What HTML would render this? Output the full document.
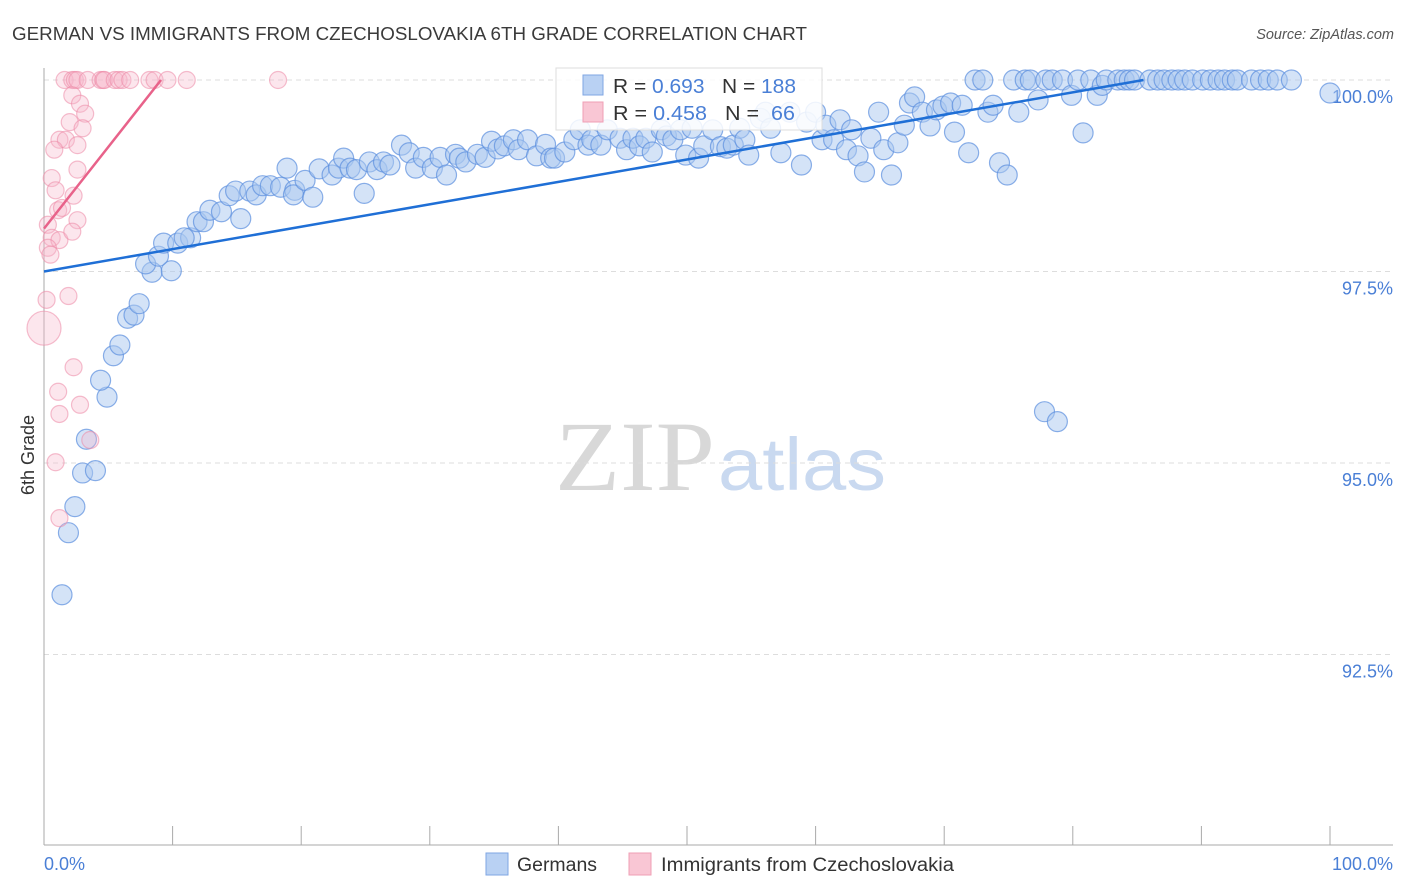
<!DOCTYPE html>
<html><head><meta charset="utf-8">
<style>
body{margin:0;background:#fff;font-family:"Liberation Sans",sans-serif;}
#wrap{position:relative;width:1406px;height:892px;overflow:hidden;}
svg text{font-family:"Liberation Sans",sans-serif;}
</style></head>
<body>
<div id="wrap">
<svg id="chart" width="1406" height="892">
  <text x="12" y="40" font-size="18" fill="#3a3a3a" textLength="795" lengthAdjust="spacingAndGlyphs">GERMAN VS IMMIGRANTS FROM CZECHOSLOVAKIA 6TH GRADE CORRELATION CHART</text>
  <text x="1394" y="39" font-size="14.5" fill="#555" text-anchor="end" font-style="italic">Source: ZipAtlas.com</text>
  <text x="555" y="490" font-size="100" fill="#d8d8d8" textLength="160" lengthAdjust="spacingAndGlyphs" style="font-family:'Liberation Serif',serif">ZIP</text>
  <text x="718" y="490" font-size="74" fill="#c9d9f0" textLength="168" lengthAdjust="spacingAndGlyphs">atlas</text>
  <g id="grid"></g>
  <g id="axes"></g>
  <g id="pts"></g>
  <g id="lines"></g>
  <text transform="translate(34,455) rotate(-90)" font-size="18" fill="#333" text-anchor="middle">6th Grade</text>
  <text x="44" y="870" font-size="18" fill="#4a7fd6">0.0%</text>
  <text x="1393" y="870" font-size="18" fill="#4a7fd6" text-anchor="end">100.0%</text>
  <g>
    <rect x="556" y="68" width="266" height="62" fill="#fff" fill-opacity="0.85" stroke="#ddd"/>
    <rect x="583" y="75" width="20" height="20" fill="#b9d1f3" stroke="#7fa6e3"/>
    <text x="613" y="93" font-size="20" fill="#333" textLength="183" lengthAdjust="spacingAndGlyphs">R = <tspan fill="#4a7fd6">0.693</tspan>&#160;&#160;&#160;N = <tspan fill="#4a7fd6">188</tspan></text>
    <rect x="583" y="102" width="20" height="20" fill="#f9c6d4" stroke="#ef9fb5"/>
    <text x="613" y="120" font-size="20" fill="#333" textLength="182" lengthAdjust="spacingAndGlyphs">R = <tspan fill="#4a7fd6">0.458</tspan>&#160;&#160;&#160;N = <tspan fill="#4a7fd6">&#160;66</tspan></text>
  </g>
  <g>
    <rect x="486" y="853" width="22" height="22" fill="#b9d1f3" stroke="#7fa6e3"/>
    <text x="517" y="871" font-size="19" fill="#333" textLength="80" lengthAdjust="spacingAndGlyphs">Germans</text>
    <rect x="629" y="853" width="22" height="22" fill="#f9c6d4" stroke="#ef9fb5"/>
    <text x="661" y="871" font-size="19" fill="#333" textLength="293" lengthAdjust="spacingAndGlyphs">Immigrants from Czechoslovakia</text>
  </g>
</svg>
</div>
<script>
const yTicks=[100,97.5,95,92.5];
const yTickLabels=["100.0%","97.5%","95.0%","92.5%"];
const xTicks=[0,10,20,30,40,50,60,70,80,90,100];
const blueX=[1.4,1.9,2.4,3.0,4.0,3.3,4.9,4.4,5.4,5.9,6.5,7.0,7.4,8.4,9.9,7.9,8.9,9.3,10.4,11.4,10.9,11.9,12.4,12.9,13.8,15.3,14.4,14.9,16.0,16.5,17.0,17.6,18.4,18.9,19.5,19.4,20.3,20.9,21.4,22.4,22.9,23.3,23.8,24.3,24.9,25.3,25.9,26.4,26.9,27.8,28.4,28.9,29.5,30.2,30.8,31.3,32.0,32.3,32.8,33.7,34.3,34.8,35.3,35.8,36.5,36.9,37.6,38.3,39.0,39.4,39.7,40.5,41.2,41.7,42.3,42.6,43.3,43.8,44.8,45.3,45.8,46.3,46.8,47.3,48.0,48.4,48.9,49.5,49.9,50.4,50.9,51.3,52.0,52.6,53.1,53.6,54.1,54.5,54.8,55.7,56.1,56.5,57.3,58.0,58.9,59.3,60.0,60.5,60.8,61.4,61.9,62.4,62.8,63.3,63.8,64.3,64.9,65.3,65.9,66.4,66.9,67.3,67.7,68.3,68.9,69.4,69.9,70.5,70.8,71.4,71.9,72.4,73.0,73.4,73.8,74.3,74.9,75.4,75.8,76.3,76.7,77.3,77.9,78.4,79.2,79.9,80.4,80.8,81.4,81.9,82.3,82.6,83.5,84.0,84.4,84.8,86.0,86.6,87.1,87.7,88.2,88.7,89.3,90.1,90.7,91.3,91.8,92.4,92.8,93.9,94.6,95.2,95.9,97.0,100.0,77.8,78.8];
const blueY=[93.28,94.09,94.43,94.87,94.90,95.31,95.86,96.08,96.40,96.54,96.89,96.93,97.08,97.49,97.51,97.60,97.70,97.87,97.87,97.94,97.94,98.15,98.15,98.30,98.28,98.19,98.49,98.55,98.55,98.50,98.62,98.62,98.60,98.85,98.56,98.50,98.69,98.47,98.84,98.76,98.85,98.98,98.85,98.83,98.52,98.93,98.83,98.93,98.89,99.15,99.05,98.85,98.99,98.85,98.99,98.76,99.03,98.98,98.93,99.03,98.99,99.20,99.10,99.14,99.22,99.09,99.22,99.01,99.16,98.98,98.98,99.06,99.22,99.35,99.15,99.22,99.15,99.35,99.24,99.09,99.24,99.14,99.24,99.06,99.35,99.27,99.22,99.35,99.02,99.37,98.98,99.14,99.35,99.13,99.11,99.15,99.37,99.22,99.02,99.50,99.58,99.37,99.05,99.58,98.89,99.45,99.58,99.22,99.41,99.22,99.48,99.09,99.35,99.01,98.80,99.24,99.58,99.09,98.76,99.18,99.41,99.70,99.78,99.58,99.40,99.61,99.66,99.70,99.32,99.67,99.05,100,100,99.58,99.67,98.92,98.76,100,99.58,100,100,99.74,100,100,100,99.80,100,99.31,100,99.80,99.93,100,100,100,100,100,100,100,100,100,100,100,100,100,100,100,100,100,100,100,100,100,100,100,99.83,95.67,95.54];
const pinkX=[1.6,2.2,2.4,2.6,3.4,4.4,4.6,4.7,5.5,5.8,6.1,6.7,8.2,8.6,9.6,11.1,18.2,2.2,2.8,3.2,2.0,3.0,1.2,1.7,2.6,0.8,2.6,0.6,0.9,2.3,1.1,1.4,2.6,0.3,0.6,1.2,2.2,0.3,0.5,0.2,1.9,0,2.3,1.1,2.8,1.2,3.6,0.9,1.2];
const pinkY=[100,100,100,100,100,100,100,100,100,100,100,100,100,100,100,100,100,99.80,99.69,99.56,99.45,99.37,99.22,99.22,99.15,99.09,98.83,98.72,98.56,98.49,98.30,98.33,98.17,98.11,97.94,97.91,98.02,97.81,97.72,97.13,97.18,96.76,96.25,95.93,95.76,95.64,95.30,95.01,94.28];
const pinkSize=[1,1,1,1,1,1,1,1,1,1,1,1,1,1,1,1,1,1,1,1,1,1,1,1,1,1,1,1,1,1,1,1,1,1,1,1,1,1,1,1,1,2,1,1,1,1,1,1,1];
const blueTrend=[[0,97.5],[85.5,100.0]];
const pinkTrend=[[0,98.06],[9.1,100.0]];
const X0=44,X1=1330,Y100=80,PXPER=76.6;
function sx(v){return X0+(X1-X0)*v/100;}
function sy(v){return Y100+(100-v)*PXPER;}
const NS="http://www.w3.org/2000/svg";
function mk(tag,attrs,parent){const e=document.createElementNS(NS,tag);for(const k in attrs)e.setAttribute(k,attrs[k]);parent.appendChild(e);return e;}
const grid=document.getElementById('grid'),axes=document.getElementById('axes'),pts=document.getElementById('pts'),lines=document.getElementById('lines');
yTicks.forEach((t,i)=>{
  const l=mk('line',{x1:44,x2:1393,y1:sy(t),y2:sy(t),stroke:'#ddd','stroke-dasharray':'5,4'},grid);
  
  
  const tx=mk('text',{x:1393,y:sy(t)+23,'font-size':18,fill:'#4a7fd6','text-anchor':'end'},grid);
  tx.textContent=yTickLabels[i];
  
  
});
const ax=mk('line',{x1:44,x2:44,y1:68,y2:845,stroke:'#aaa'},axes);


const bx=mk('line',{x1:44,x2:1393,y1:845,y2:845,stroke:'#aaa'},axes);


xTicks.forEach(t=>{
  const l=mk('line',{x1:sx(t),x2:sx(t),y1:826,y2:845,stroke:'#aaa'},axes);
  
  
});
blueX.forEach((x,i)=>{
  const c=mk('circle',{cx:sx(x),cy:sy(blueY[i]),r:10,fill:'#a9c8f0','fill-opacity':0.5,stroke:'#5b8ede','stroke-opacity':0.7,'stroke-width':1.2},pts);
  
  
});
pinkX.forEach((x,i)=>{
  const c=mk('circle',{cx:sx(x),cy:sy(pinkY[i]),r:8.5*pinkSize[i],fill:'#f7b8ca','fill-opacity':0.35,stroke:'#ec88a6','stroke-opacity':0.55,'stroke-width':1.2},pts);
  
  
});
const bl=mk('line',{x1:sx(blueTrend[0][0]),y1:sy(blueTrend[0][1]),x2:sx(blueTrend[1][0]),y2:sy(blueTrend[1][1]),stroke:'#1f6fd6','stroke-width':2.5},lines);


const pl=mk('line',{x1:sx(pinkTrend[0][0]),y1:sy(pinkTrend[0][1]),x2:sx(pinkTrend[1][0]),y2:sy(pinkTrend[1][1]),stroke:'#e8628a','stroke-width':2.5},lines);


</script>
</body></html>
